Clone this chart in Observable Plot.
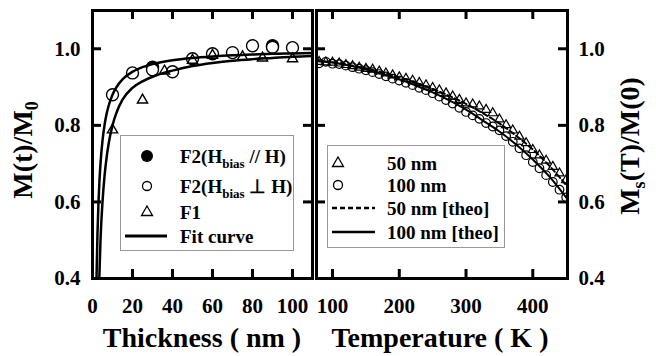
<!DOCTYPE html>
<html><head><meta charset="utf-8">
<script src="https://cdn.jsdelivr.net/npm/d3@7"></script>
<script src="https://cdn.jsdelivr.net/npm/@observablehq/plot@0.6"></script>
<style>
body{margin:0;background:#fff;}
#wrap{position:relative;width:656px;height:356px;overflow:hidden;background:#fff;}
#wrap svg{position:absolute;top:0;overflow:visible;}
#overlay{left:0;pointer-events:none;}
</style></head><body><div id="wrap"></div>
<script>
// ---------- Left panel data ----------
const thickTicks = [0, 20, 40, 60, 80, 100];
const mTicks = [0.4, 0.6, 0.8, 1.0];
const mTickLabels = ["0.4", "0.6", "0.8", "1.0"];

const thickF2par = [30, 90];
const mF2par = [0.952, 1.008];

const thickF2perp = [10, 20, 30, 40, 50, 60, 70, 80, 90, 100];
const mF2perp = [0.880, 0.937, 0.945, 0.940, 0.974, 0.987, 0.990, 1.008, 1.004, 1.003];

const thickF1 = [10, 25, 36, 50, 60, 75, 85, 100];
const mF1 = [0.788, 0.866, 0.942, 0.970, 0.983, 0.979, 0.976, 0.974];

const fitThickA = [2, 2.5, 3, 3.5, 4, 5, 6, 7, 8, 10, 12, 15, 20, 25, 30, 40, 50, 60, 70, 80, 90, 100, 110];
const fitA = [0.40, 0.52, 0.60, 0.657, 0.70, 0.76, 0.80, 0.829, 0.85, 0.88, 0.90, 0.92, 0.94, 0.952, 0.96, 0.97, 0.976, 0.98, 0.983, 0.985, 0.987, 0.988, 0.989];
const fitThickB = [3.4, 4, 5, 6, 7, 8, 10, 12, 15, 20, 25, 30, 40, 50, 60, 70, 80, 90, 100, 110];
const fitB = [0.40, 0.50, 0.60, 0.667, 0.714, 0.75, 0.80, 0.833, 0.867, 0.898, 0.915, 0.927, 0.943, 0.955, 0.963, 0.969, 0.973, 0.976, 0.979, 0.981];

// ---------- Right panel data ----------
const tempTicks = [100, 200, 300, 400];
const temp = [80, 90, 100, 110, 120, 130, 140, 150, 160, 170, 180, 190, 200, 210, 220, 230, 240, 250, 260, 270, 280, 290, 300, 310, 320, 330, 340, 350, 360, 370, 380, 390, 400, 410, 420, 430, 440, 450];
const m50 = [0.966, 0.965, 0.964, 0.962, 0.958, 0.955, 0.951, 0.948, 0.946, 0.941, 0.936, 0.931, 0.926, 0.922, 0.917, 0.911, 0.905, 0.898, 0.892, 0.884, 0.876, 0.867, 0.858, 0.855, 0.850, 0.841, 0.832, 0.816, 0.801, 0.787, 0.771, 0.754, 0.736, 0.722, 0.708, 0.692, 0.675, 0.657];
const m100 = [0.962, 0.966, 0.961, 0.960, 0.956, 0.952, 0.948, 0.944, 0.939, 0.934, 0.928, 0.922, 0.917, 0.911, 0.905, 0.898, 0.892, 0.884, 0.875, 0.866, 0.857, 0.846, 0.835, 0.826, 0.817, 0.806, 0.797, 0.787, 0.772, 0.757, 0.740, 0.722, 0.704, 0.688, 0.670, 0.652, 0.632, 0.612];
const theoT = [76, 100, 125, 150, 175, 200, 225, 250, 275, 300, 325, 350, 375, 400, 425, 452];
const theo50 = [0.968, 0.965, 0.958, 0.949, 0.938, 0.925, 0.911, 0.895, 0.877, 0.856, 0.832, 0.805, 0.773, 0.737, 0.694, 0.640];
const theo100 = [0.968, 0.964, 0.956, 0.946, 0.934, 0.920, 0.904, 0.886, 0.865, 0.841, 0.813, 0.784, 0.750, 0.711, 0.666, 0.607];

// ---------- build tables ----------
const zip = (xs, ys) => xs.map((x, i) => ({x, y: ys[i]}));
const F2par = zip(thickF2par, mF2par), F2perp = zip(thickF2perp, mF2perp), F1 = zip(thickF1, mF1);
const fitAData = zip(fitThickA, fitA), fitBData = zip(fitThickB, fitB);
const d50 = zip(temp, m50), d100 = zip(temp, m100);
const t50 = zip(theoT, theo50), t100 = zip(theoT, theo100);

const FONT = "'Liberation Serif','Times New Roman',serif";
const style = {fontFamily: FONT, fontWeight: "bold", fontSize: "21px", background: "transparent", overflow: "visible"};
const H = 356, MT = 10, MB = 78, innerH = H - MT - MB;
const TL = 9;
const yTickFmt = d => mTickLabels[mTicks.indexOf(d)] ?? d3.format(".1f")(d);

function frameTicks(xt, innerW) {
  const yi = mTicks.filter(d => d > 0.4);
  return [
    Plot.tickX(xt, {x: d => d, insetTop: innerH - TL, strokeWidth: 3}),
    Plot.tickX(xt, {x: d => d, insetBottom: innerH - TL, strokeWidth: 3}),
    Plot.tickY(yi, {y: d => d, insetRight: innerW - TL, strokeWidth: 3}),
    Plot.tickY(yi, {y: d => d, insetLeft: innerW - TL, strokeWidth: 3})
  ];
}

const leftW = 220;
const left = Plot.plot({
  width: 314, height: H, marginLeft: 92, marginRight: 2, marginTop: MT, marginBottom: MB,
  style,
  x: {domain: [0, 110]},
  y: {domain: [0.4, 1.1]},
  marks: [
    Plot.axisX(thickTicks, {anchor: "bottom", tickSize: 0, tickPadding: 20, label: null}),
    Plot.axisY(mTicks, {anchor: "left", tickSize: 0, tickPadding: 12, label: null, tickFormat: yTickFmt}),
    Plot.dot(F2par, {x: "x", y: "y", r: 6, fill: "black", stroke: "black"}),
    Plot.dot(F2perp, {x: "x", y: "y", r: 6, fill: "white", stroke: "black", strokeWidth: 1.4}),
    Plot.dot(F1, {x: "x", y: "y", symbol: "triangle", r: 3.8, fill: "none", stroke: "black", strokeWidth: 1.4}),
    Plot.line(fitAData, {x: "x", y: "y", curve: "monotone-x", strokeWidth: 2.5, clip: true}),
    Plot.line(fitBData, {x: "x", y: "y", curve: "monotone-x", strokeWidth: 2.5, clip: true}),
    ...frameTicks(thickTicks.filter(d => d > 0), leftW),
    Plot.frame({strokeWidth: 3})
  ]
});
left.style.left = "0px";

const rightW = 251;
const right = Plot.plot({
  width: 342, height: H, marginLeft: 2, marginRight: 89, marginTop: MT, marginBottom: MB,
  style,
  x: {domain: [76, 452]},
  y: {domain: [0.4, 1.1]},
  marks: [
    Plot.axisX(tempTicks, {anchor: "bottom", tickSize: 0, tickPadding: 20, label: null}),
    Plot.axisY(mTicks, {anchor: "right", tickSize: 0, tickPadding: 11, label: null, tickFormat: yTickFmt}),
    Plot.dot(d100, {x: "x", y: "y", r: 4.3, fill: "none", stroke: "black", strokeWidth: 1.2, clip: true}),
    Plot.dot(d50, {x: "x", y: "y", symbol: "triangle", r: 3.4, fill: "none", stroke: "black", strokeWidth: 1.2, clip: true}),
    Plot.line(t50, {x: "x", y: "y", curve: "monotone-x", strokeWidth: 2, strokeDasharray: "5,3", clip: true}),
    Plot.line(t100, {x: "x", y: "y", curve: "monotone-x", strokeWidth: 2, clip: true}),
    ...frameTicks(tempTicks, rightW),
    Plot.frame({strokeWidth: 3})
  ]
});
right.style.left = "314px";

const wrap = document.getElementById("wrap");
wrap.appendChild(left);
wrap.appendChild(right);

// ---------- titles & legends overlay ----------
const ns = "http://www.w3.org/2000/svg";
const ov = document.createElementNS(ns, "svg");
ov.setAttribute("id", "overlay");
ov.setAttribute("width", 656); ov.setAttribute("height", 356);
ov.setAttribute("font-family", FONT); ov.setAttribute("font-weight", "bold");
ov.innerHTML = `
<text x="202" y="347" font-size="28" text-anchor="middle">Thickness ( nm )</text>
<text x="440" y="347" font-size="28" text-anchor="middle">Temperature ( K )</text>
<text transform="translate(32,150) rotate(-90)" font-size="28" text-anchor="middle">M(t)/M<tspan font-size="18" dy="6">0</tspan></text>
<text transform="translate(639,146) rotate(-90)" font-size="28" text-anchor="middle">M<tspan font-size="18" dy="6">s</tspan><tspan dy="-6">(T)/M(0)</tspan></text>

<rect x="120.5" y="135.5" width="173" height="115" fill="white" stroke="#999" stroke-width="1"/>
<circle cx="147" cy="156" r="6" fill="black"/>
<text x="180" y="163" font-size="19">F2(H<tspan font-size="13" dy="5">bias</tspan><tspan dy="-5"> // H)</tspan></text>
<circle cx="147" cy="186" r="4.5" fill="none" stroke="black" stroke-width="1.3"/>
<text x="180" y="193" font-size="19">F2(H<tspan font-size="13" dy="5">bias</tspan><tspan dy="-5"> ⊥ H)</tspan></text>
<path d="M147,206 L152.5,215.5 L141.5,215.5 Z" fill="none" stroke="black" stroke-width="1.3"/>
<text x="180" y="219" font-size="19">F1</text>
<line x1="125" y1="236" x2="167" y2="236" stroke="black" stroke-width="3"/>
<text x="180" y="243" font-size="19">Fit curve</text>

<rect x="327.5" y="145.5" width="177" height="102" fill="white" stroke="#999" stroke-width="1"/>
<path d="M338,157 L343.5,166.5 L332.5,166.5 Z" fill="none" stroke="black" stroke-width="1.3"/>
<text x="387" y="170" font-size="19">50 nm</text>
<circle cx="338" cy="185" r="4.5" fill="none" stroke="black" stroke-width="1.3"/>
<text x="387" y="192" font-size="19">100 nm</text>
<line x1="332" y1="208" x2="375" y2="208" stroke="black" stroke-width="2.5" stroke-dasharray="5,3"/>
<text x="387" y="215" font-size="19">50 nm [theo]</text>
<line x1="332" y1="232" x2="375" y2="232" stroke="black" stroke-width="2.5"/>
<text x="387" y="239" font-size="19">100 nm [theo]</text>
`;
wrap.appendChild(ov);
</script>
</body></html>
